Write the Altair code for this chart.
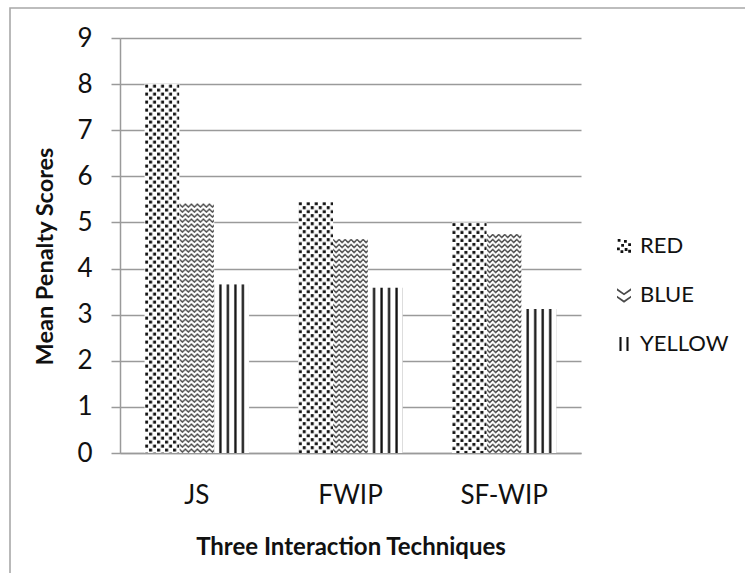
import base64

import altair as alt
import pandas as pd

# Mean penalty scores per interaction technique and colour condition
techniques = ["JS", "FWIP", "SF-WIP"]
series = ["RED", "BLUE", "YELLOW"]
red_scores = [8.0, 5.45, 5.0]
blue_scores = [5.42, 4.65, 4.76]
yellow_scores = [3.66, 3.59, 3.13]
y_ticks = [0, 1, 2, 3, 4, 5, 6, 7, 8, 9]

rows = []
for name, values in zip(series, [red_scores, blue_scores, yellow_scores]):
    for tech, val in zip(techniques, values):
        rows.append({"technique": tech, "series": name, "score": val})
df = pd.DataFrame(rows)

FONT = "Lato"
GRID = "#9a9a9a"


def pattern_uri(tile_w, tile_h, body):
    """Tileable SVG fill, returned as a data URI for an image mark."""
    svg = (
        '<svg xmlns="http://www.w3.org/2000/svg" width="100%" height="100%">'
        f'<defs><pattern id="p" width="{tile_w}" height="{tile_h}" '
        'patternUnits="userSpaceOnUse">'
        f'<rect width="{tile_w}" height="{tile_h}" fill="#ffffff"/>{body}'
        "</pattern></defs>"
        '<rect width="100%" height="100%" fill="url(#p)"/></svg>'
    )
    return "data:image/svg+xml;base64," + base64.b64encode(svg.encode()).decode()


fills = {
    "RED": pattern_uri(
        8, 8,
        '<rect x="0.5" y="0.5" width="3" height="3" fill="#111"/>'
        '<rect x="4.5" y="4.5" width="3" height="3" fill="#111"/>',
    ),
    "BLUE": pattern_uri(
        6, 5,
        '<path d="M-3,4 L0,1 L3,4 L6,1 L9,4" fill="none" stroke="#3c3c3c" '
        'stroke-width="1.3"/>',
    ),
    "YELLOW": pattern_uri(
        7.5, 10, '<rect x="5" y="0" width="2.3" height="10" fill="#111"/>'
    ),
}

# legend glyphs as custom symbol paths (unit square -1..1)
glyphs = [
    "M-0.9,-1h0.4v0.4h-0.4z M0.0,-0.85h0.4v0.4h-0.4z M0.6,-0.4h0.4v0.4h-0.4z "
    "M-0.4,-0.3h0.4v0.4h-0.4z M-1,0.2h0.4v0.4h-0.4z M0.1,0.3h0.4v0.4h-0.4z "
    "M-0.5,0.6h0.4v0.4h-0.4z M0.6,0.55h0.4v0.4h-0.4z",
    "M-1,-0.95L0,-0.25L1,-0.95L1,-0.65L0,0.05L-1,-0.65Z "
    "M-1,0.1L0,0.8L1,0.1L1,0.4L0,1.1L-1,0.4Z",
    "M-0.65,-1h0.3v2h-0.3z M0.35,-1h0.3v2h-0.3z",
]

x_enc = alt.X(
    "technique:N",
    sort=techniques,
    scale=alt.Scale(domain=techniques, paddingInner=0.32, paddingOuter=0.16),
    axis=alt.Axis(
        title="Three Interaction Techniques",
        labelAngle=0,
        ticks=False,
        tickSize=0,
        labelPadding=29,
        labelFont=FONT,
        labelFontSize=26,
        labelColor="#111",
        domainColor=GRID,
        domainWidth=1.5,
        titleFont=FONT,
        titleFontSize=24,
        titleFontWeight="bold",
        titleColor="#111",
        titleY=94,
        titleBaseline="middle",
    ),
)
x_off = alt.XOffset(
    "series:N",
    sort=series,
    scale=alt.Scale(domain=series, paddingInner=0, paddingOuter=0),
)
y_enc = alt.Y(
    "score:Q",
    scale=alt.Scale(domain=[0, 9], nice=False),
    axis=alt.Axis(
        values=y_ticks,
        title="Mean Penalty Scores",
        tickSize=9,
        tickColor=GRID,
        tickWidth=1.5,
        labelPadding=19,
        labelFont=FONT,
        labelFontSize=26,
        labelColor="#111",
        domainColor=GRID,
        domainWidth=1.5,
        grid=True,
        gridColor=GRID,
        gridWidth=1.5,
        titleFont=FONT,
        titleFontSize=23.5,
        titleFontWeight="bold",
        titleColor="#111",
        titleAngle=270,
        titleX=-75,
        titleY=218,
        titleAlign="center",
        titleBaseline="middle",
    ),
)

base = alt.Chart(df)

bars = base.mark_bar(fill="white").encode(x=x_enc, xOffset=x_off, y=y_enc)

textured = [
    base.transform_filter(alt.datum.series == name)
    .mark_image(aspect=False)
    .encode(x=x_enc, xOffset=x_off, y=y_enc, y2=alt.datum(0), url=alt.value(fills[name]))
    for name in series
]

legend_cfg = dict(
    title=None,
    orient="none",
    legendX=493,
    legendY=197,
    symbolOpacity=1,
    symbolSize=196,
    symbolStrokeWidth=0,
    labelFont=FONT,
    labelFontSize=22,
    labelColor="#111",
    labelOffset=5,
    rowPadding=27,
)
legend_layer = base.mark_point(filled=True, opacity=0, size=196).encode(
    x=x_enc,
    xOffset=x_off,
    y=y_enc,
    shape=alt.Shape(
        "series:N",
        sort=series,
        scale=alt.Scale(domain=series, range=glyphs),
        legend=alt.Legend(**legend_cfg),
    ),
    color=alt.Color(
        "series:N",
        sort=series,
        scale=alt.Scale(domain=series, range=["#111111", "#4a4a4a", "#111111"]),
        legend=alt.Legend(**legend_cfg),
    ),
)

frame = (
    alt.Chart(pd.DataFrame({"frame": [0]}))
    .mark_rect(fill="transparent", stroke="#a8a8a8", strokeWidth=1.6)
    .encode(
        x=alt.value(-110),
        y=alt.value(-30),
        x2=alt.value(720),
        y2=alt.value(640),
    )
)

chart = (
    alt.layer(frame, bars, *textured, legend_layer)
    .properties(
        width=461,
        height=415,
        autosize=alt.AutoSizeParams(type="none"),
        padding={"left": 120, "top": 38, "right": 164, "bottom": 120},
        background="white",
    )
    .configure_view(stroke=None)
)

chart.save("out.html", embed_options={"renderer": "svg", "actions": False})
